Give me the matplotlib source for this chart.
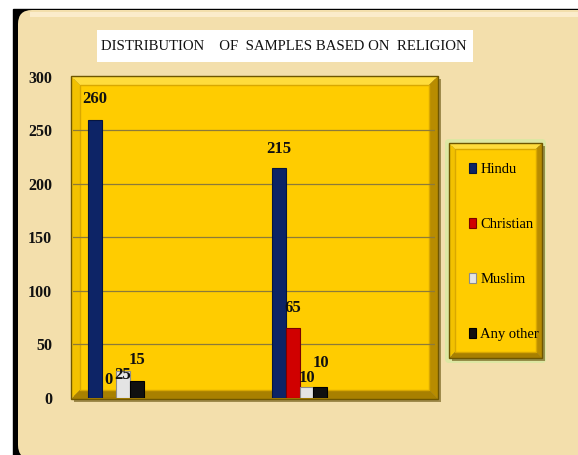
import matplotlib
matplotlib.use("Agg")
import matplotlib.pyplot as plt
from matplotlib.patches import Rectangle, Polygon, FancyBboxPatch
import numpy as np

plt.rcParams['font.family'] = ['Liberation Serif', 'DejaVu Serif']

# religion counts per sample group
groups = ['Group 1', 'Group 2']
religions = ['Hindu', 'Christian', 'Muslim', 'Any other']
hindu = [260, 215]
christian = [0, 65]
muslim = [25, 10]
any_other = [15, 10]
title = 'DISTRIBUTION    OF  SAMPLES BASED ON  RELIGION'
yticks = [0, 50, 100, 150, 200, 250, 300]

series = [hindu, christian, muslim, any_other]
colors = ['#0d2466', '#d00000', '#e4e4e4', '#101010']
edges = ['#061540', '#7a0000', '#8c8c8c', '#000000']
# vertical offset (pixels) of each value label from its bar top
label_dy = [[21, 19], [17, 20], [-4, 9], [21, 24]]

W, H = 578, 455
fig = plt.figure(figsize=(W / 100, H / 100), dpi=100, facecolor='white')

# decoration layer in pixel coordinates
bg = fig.add_axes([0, 0, 1, 1])
bg.set_xlim(0, W)
bg.set_ylim(H, 0)
bg.axis('off')

bg.add_patch(Rectangle((13, 9), W, H, color='black', zorder=0))
bg.add_patch(FancyBboxPatch((18, 10), W + 20, H - 6,
                            boxstyle='round,pad=0,rounding_size=14',
                            fc='#f3dfac', ec='none', zorder=1))
bg.add_patch(Rectangle((30, 12), W, 5, fc='#fbeccb', ec='none', zorder=1))


def bevel(x0, y0, x1, y1, d):
    bg.add_patch(Rectangle((x0 + 3, y0 + 3), x1 - x0, y1 - y0,
                           fc='#5a4600', alpha=0.55, ec='none', zorder=2))
    bg.add_patch(Polygon([(x0, y0), (x1, y0), (x1 - d, y0 + d), (x0 + d, y0 + d)],
                         fc='#ffdc3c', ec='none', zorder=3))
    bg.add_patch(Polygon([(x0, y0), (x0 + d, y0 + d), (x0 + d, y1 - d), (x0, y1)],
                         fc='#f2c100', ec='none', zorder=3))
    bg.add_patch(Polygon([(x1, y0), (x1, y1), (x1 - d, y1 - d), (x1 - d, y0 + d)],
                         fc='#b88c00', ec='none', zorder=3))
    bg.add_patch(Polygon([(x0, y1), (x1, y1), (x1 - d, y1 - d), (x0 + d, y1 - d)],
                         fc='#a88000', ec='none', zorder=3))
    bg.add_patch(Rectangle((x0 + d, y0 + d), x1 - x0 - 2 * d, y1 - y0 - 2 * d,
                           fc='#ffcc00', ec='#d9a800', lw=1, zorder=3))
    bg.add_patch(Rectangle((x0, y0), x1 - x0, y1 - y0,
                           fc='none', ec='#6e5600', lw=1, zorder=4))


# plot panel
bevel(71, 76, 438, 399, 9)

# legend panel with its green glow
bg.add_patch(FancyBboxPatch((445, 139), 101, 224, boxstyle='round,pad=0,rounding_size=4',
                            fc='#dbe8a2', ec='none', alpha=0.9, zorder=2))
bevel(449, 143, 542, 358, 6)

# title box
bg.add_patch(Rectangle((97, 30), 376, 32, fc='white', ec='none', zorder=2))
t = bg.text(284, 46.5, title, ha='center', va='center', color='#111111',
            fontsize=14, zorder=5)
fig.canvas.draw()
tw = t.get_window_extent().width
t.set_fontsize(14 * 368 / tw)

# bar chart
ax = fig.add_axes([73 / W, 1 - 397.5 / H, (435 - 73) / W, (397.5 - 77) / H])
ax.patch.set_alpha(0)
x = np.arange(len(groups))
w = 0.076
handles = []
for i, (vals, c, ec) in enumerate(zip(series, colors, edges)):
    pos = x + (i - 1.5) * w
    b = ax.bar(pos, vals, w, color=c, edgecolor=ec, linewidth=0.8,
               label=religions[i], zorder=3)
    handles.append(b)
    for j, (p, v) in enumerate(zip(pos, vals)):
        ax.annotate(str(v), (p, v), xytext=(0, label_dy[i][j]),
                    textcoords='offset pixels', ha='center', va='center',
                    fontsize=12, fontweight='bold', color='#111111', zorder=5)

ax.set_xlim(-0.234, 1.738)
ax.set_ylim(0, 300)
ax.set_yticks(yticks)
ax.set_yticklabels([str(v) for v in yticks], fontsize=11.5, fontweight='bold')
ax.set_xticks([])
ax.tick_params(axis='y', length=0, pad=15, colors='#111111')
for s in ax.spines.values():
    s.set_visible(False)
for v in yticks[1:-1]:
    ax.axhline(v, color='#8c7a3a', lw=0.9, zorder=1)

fig.legend(handles=handles, loc='center left',
           bbox_to_anchor=(462 / W, 1 - 252 / H), frameon=False,
           handlelength=0.45, handleheight=0.7, handletextpad=0.3,
           labelspacing=2.85, borderpad=0, prop={'size': 10.5})

fig.savefig('out.png', dpi=100, facecolor='white')
